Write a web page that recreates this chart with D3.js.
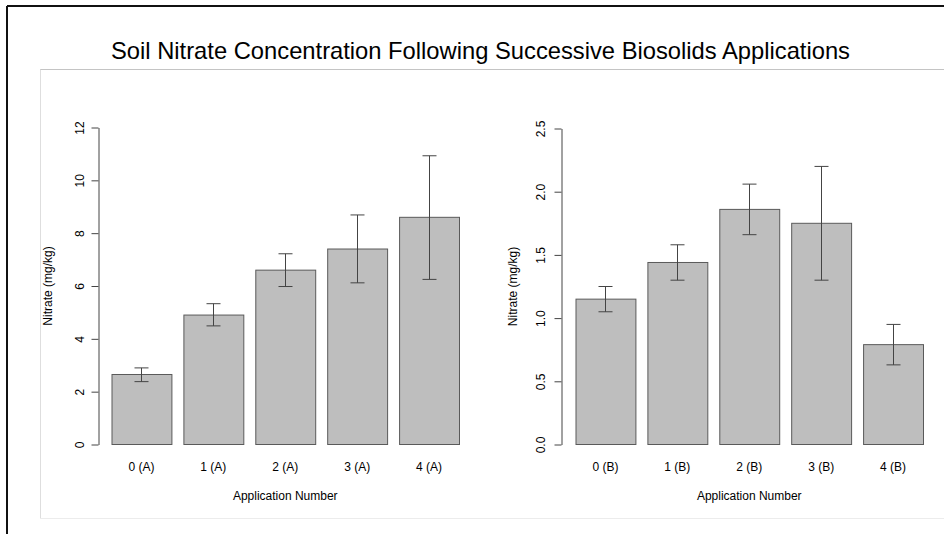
<!DOCTYPE html>
<html>
<head>
<meta charset="utf-8">
<script src="https://cdn.jsdelivr.net/npm/d3@7"></script>
<style>
  html, body { margin: 0; padding: 0; background: #fff; }
  svg { display: block; font-family: "Liberation Sans", Arial, Helvetica, sans-serif; }
</style>
</head>
<body>
<svg id="chart" width="944" height="534"></svg>
<script>
// Site A: mean soil nitrate (mg/kg) with lower/upper error bounds
const categoriesA = ["0 (A)", "1 (A)", "2 (A)", "3 (A)", "4 (A)"];
const meansA = [2.65, 4.90, 6.60, 7.40, 8.60];
const lowerA = [2.38, 4.49, 5.98, 6.12, 6.25];
const upperA = [2.90, 5.33, 7.22, 8.69, 10.93];
const ticksA = [0, 2, 4, 6, 8, 10, 12];

// Site B
const categoriesB = ["0 (B)", "1 (B)", "2 (B)", "3 (B)", "4 (B)"];
const meansB = [1.15, 1.44, 1.86, 1.75, 0.79];
const lowerB = [1.05, 1.30, 1.66, 1.30, 0.63];
const upperB = [1.25, 1.58, 2.06, 2.20, 0.95];
const ticksB = [0.0, 0.5, 1.0, 1.5, 2.0, 2.5];

const titleText = "Soil Nitrate Concentration Following Successive Biosolids Applications";
const xTitle = "Application Number";
const yTitle = "Nitrate (mg/kg)";

const svg = d3.select("#chart");

// outer frame
svg.append("line").attr("x1", 7).attr("x2", 944).attr("y1", 6).attr("y2", 6)
  .attr("stroke", "#111").attr("stroke-width", 2);
svg.append("line").attr("x1", 7).attr("x2", 7).attr("y1", 6).attr("y2", 534)
  .attr("stroke", "#111").attr("stroke-width", 2);

// light inner box around both panels
svg.append("line").attr("x1", 40).attr("x2", 944).attr("y1", 69.5).attr("y2", 69.5)
  .attr("stroke", "#c4c4c4").attr("stroke-width", 1);
svg.append("line").attr("x1", 40.5).attr("x2", 40.5).attr("y1", 69.5).attr("y2", 518.5)
  .attr("stroke", "#dedede").attr("stroke-width", 1);
svg.append("line").attr("x1", 40).attr("x2", 944).attr("y1", 518.5).attr("y2", 518.5)
  .attr("stroke", "#ececec").attr("stroke-width", 1);

svg.append("text")
  .attr("x", 480.5).attr("y", 58.5)
  .attr("text-anchor", "middle")
  .attr("font-size", 24)
  .attr("textLength", 739)
  .attr("lengthAdjust", "spacingAndGlyphs")
  .attr("fill", "#000")
  .text(titleText);

function panel(cfg) {
  const x = d3.scaleBand()
    .domain(cfg.categories)
    .range(cfg.xRange)
    .paddingInner(1 / 6)
    .paddingOuter(0);
  const y = d3.scaleLinear().domain(cfg.yDomain).range(cfg.yRange);
  const g = svg.append("g");
  const rows = cfg.categories.map((c, i) => ({ c, m: cfg.means[i], lo: cfg.lower[i], hi: cfg.upper[i] }));

  // bars
  g.selectAll("rect.bar").data(rows).join("rect")
    .attr("class", "bar")
    .attr("x", d => x(d.c) + 0.5)
    .attr("width", x.bandwidth())
    .attr("y", d => y(d.m))
    .attr("height", d => y(0) - y(d.m))
    .attr("fill", "#bebebe")
    .attr("stroke", "#5a5a5a")
    .attr("stroke-width", 1);

  // error bars
  const eb = g.selectAll("g.err").data(rows).join("g").attr("class", "err")
    .attr("stroke", "#444").attr("stroke-width", 1);
  const cx = d => Math.round(x(d.c) + x.bandwidth() / 2) + 0.5;
  eb.append("line").attr("x1", cx).attr("x2", cx)
    .attr("y1", d => y(d.lo)).attr("y2", d => y(d.hi));
  eb.append("line").attr("x1", d => cx(d) - 7).attr("x2", d => cx(d) + 7)
    .attr("y1", d => y(d.lo)).attr("y2", d => y(d.lo));
  eb.append("line").attr("x1", d => cx(d) - 7).attr("x2", d => cx(d) + 7)
    .attr("y1", d => y(d.hi)).attr("y2", d => y(d.hi));

  // y axis
  const ax = g.append("g")
    .attr("transform", `translate(${cfg.axisX},0)`)
    .call(d3.axisLeft(y).tickValues(cfg.ticks).tickSize(7).tickSizeOuter(0)
      .tickFormat(cfg.tickFormat));
  ax.select(".domain").attr("stroke", "#444");
  ax.selectAll(".tick line").attr("stroke", "#444");
  ax.selectAll(".tick text")
    .attr("font-size", 12)
    .attr("fill", "#000")
    .attr("text-anchor", "middle")
    .attr("x", 0).attr("dy", 0)
    .attr("transform", `translate(${-cfg.labelOffset},0) rotate(-90)`)
    .attr("y", 4);
  ax.attr("font-family", null);

  // category labels
  g.selectAll("text.cat").data(rows).join("text")
    .attr("class", "cat")
    .attr("x", d => x(d.c) + x.bandwidth() / 2)
    .attr("y", 471)
    .attr("text-anchor", "middle")
    .attr("font-size", 12)
    .attr("fill", "#000")
    .text(d => d.c);

  // axis titles
  g.append("text")
    .attr("x", (cfg.xRange[0] + cfg.xRange[1]) / 2)
    .attr("y", 500)
    .attr("text-anchor", "middle")
    .attr("font-size", 12)
    .attr("fill", "#000")
    .text(xTitle);
  g.append("text")
    .attr("transform", `translate(${cfg.yTitleX},${(cfg.yRange[0] + cfg.yRange[1]) / 2}) rotate(-90)`)
    .attr("text-anchor", "middle")
    .attr("font-size", 12)
    .attr("fill", "#000")
    .text(yTitle);
}

panel({
  categories: categoriesA, means: meansA, lower: lowerA, upper: upperA,
  ticks: ticksA, tickFormat: d3.format("d"),
  xRange: [111.5, 459], yDomain: [0, 12], yRange: [444.5, 127.5],
  axisX: 98.5, labelOffset: 19, yTitleX: 52
});

panel({
  categories: categoriesB, means: meansB, lower: lowerB, upper: upperB,
  ticks: ticksB, tickFormat: d3.format(".1f"),
  xRange: [575.5, 923], yDomain: [0, 2.5], yRange: [444.5, 128.5],
  axisX: 561.5, labelOffset: 21, yTitleX: 517
});
</script>
</body>
</html>
